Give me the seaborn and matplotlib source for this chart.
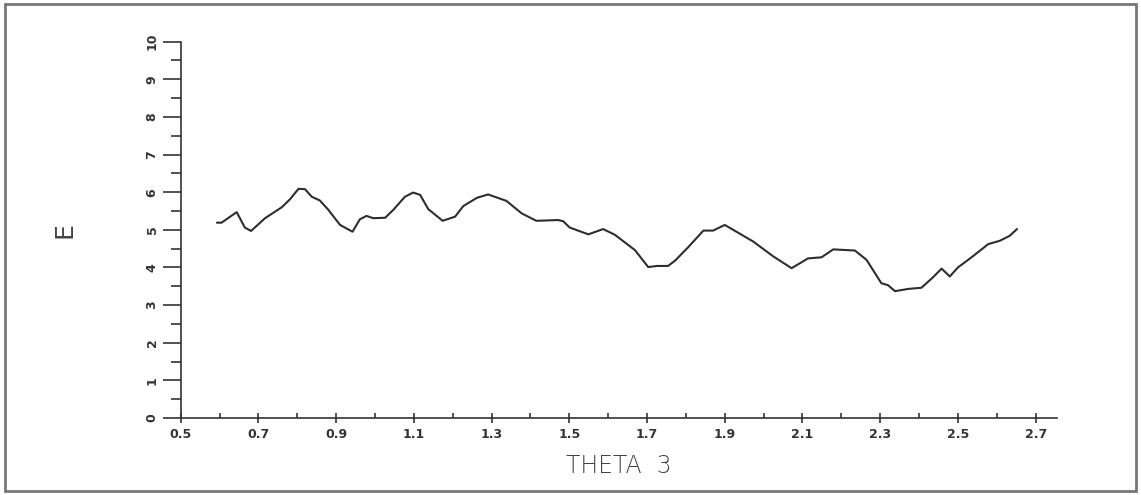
import matplotlib
matplotlib.use('Agg')
import matplotlib.pyplot as plt
from matplotlib.ticker import MultipleLocator, FixedLocator
from matplotlib.patches import Rectangle
import seaborn as sns
import pandas as pd

# valeurs (THETA 3, E)
theta = [0.593, 0.605, 0.644, 0.665, 0.681, 0.717, 0.760, 0.781, 0.803, 0.820,
         0.837, 0.858, 0.880, 0.910, 0.942, 0.961, 0.978, 0.995, 1.026, 1.047,
         1.077, 1.098, 1.116, 1.137, 1.174, 1.206, 1.227, 1.262, 1.291, 1.338,
         1.377, 1.415, 1.471, 1.484, 1.501, 1.549, 1.587, 1.617, 1.669, 1.703,
         1.725, 1.754, 1.772, 1.806, 1.845, 1.870, 1.900, 1.930, 1.973, 2.024,
         2.072, 2.114, 2.149, 2.179, 2.235, 2.265, 2.303, 2.320, 2.338, 2.372,
         2.406, 2.436, 2.458, 2.479, 2.500, 2.535, 2.578, 2.608, 2.633, 2.652]
energy = [5.19, 5.19, 5.47, 5.06, 4.97, 5.31, 5.60, 5.81, 6.09, 6.08,
          5.88, 5.78, 5.53, 5.13, 4.95, 5.28, 5.37, 5.31, 5.32, 5.53,
          5.88, 5.99, 5.93, 5.55, 5.24, 5.35, 5.63, 5.85, 5.94, 5.77,
          5.44, 5.24, 5.26, 5.23, 5.06, 4.88, 5.02, 4.87, 4.46, 4.01,
          4.04, 4.04, 4.18, 4.54, 4.98, 4.98, 5.13, 4.95, 4.69, 4.30,
          3.98, 4.24, 4.27, 4.48, 4.45, 4.20, 3.58, 3.53, 3.37, 3.43,
          3.46, 3.74, 3.97, 3.76, 4.00, 4.27, 4.62, 4.71, 4.84, 5.02]

xticks = [0.5, 0.7, 0.9, 1.1, 1.3, 1.5, 1.7, 1.9, 2.1, 2.3, 2.5, 2.7]
yticks = list(range(0, 11))

df = pd.DataFrame({'theta': theta, 'E': energy})

sns.set_style('white')
plt.rcParams['font.family'] = ['DejaVu Sans']

fig = plt.figure(figsize=(11.41, 4.95), dpi=100)
ax = fig.add_axes([0.1584, 0.1556, 0.7680, 0.7602])

sns.lineplot(data=df, x='theta', y='E', ax=ax, color='#2e2e2e',
             linewidth=1.5, sort=False, estimator=None)

ax.set_xlim(0.5, 2.755)
ax.set_ylim(0, 10)

ax.xaxis.set_major_locator(FixedLocator(xticks))
ax.xaxis.set_minor_locator(FixedLocator([t + 0.1 for t in xticks[:-1]]))
ax.set_xticklabels([f'{t:.1f}' for t in xticks])
ax.yaxis.set_major_locator(FixedLocator(yticks))
ax.yaxis.set_minor_locator(MultipleLocator(0.5))
ax.set_yticklabels([str(t) for t in yticks], rotation=90, va='center')

# le style "white" coupe les graduations, on les remet
ax.tick_params(which='both', bottom=True, left=True)
ax.tick_params(axis='x', which='major', direction='inout', length=7, width=1.2,
               labelsize=9, pad=4, colors='#333333')
ax.tick_params(axis='x', which='minor', direction='in', length=3.5, width=1.2,
               colors='#333333')
ax.tick_params(axis='y', which='major', direction='out', length=13, width=1.2,
               labelsize=9, pad=3, colors='#333333')
ax.tick_params(axis='y', which='minor', direction='out', length=7, width=1.2,
               colors='#333333')
for lab in ax.get_xticklabels() + ax.get_yticklabels():
    lab.set_fontweight('bold')

for side in ['top', 'right']:
    ax.spines[side].set_visible(False)
for side in ['left', 'bottom']:
    ax.spines[side].set_color('#333333')
    ax.spines[side].set_linewidth(1.2)

ax.set_xlabel('THETA  3', fontsize=17, color='#444444', labelpad=9,
              family='DejaVu Sans', fontweight='light')
ax.set_ylabel('E', fontsize=18, color='#444444', labelpad=50, rotation=90)

fig.patches.append(Rectangle((0.004, 0.008), 0.992, 0.984, transform=fig.transFigure,
                             fill=False, edgecolor='#777777', linewidth=2))

fig.savefig('out.png', dpi=100)
